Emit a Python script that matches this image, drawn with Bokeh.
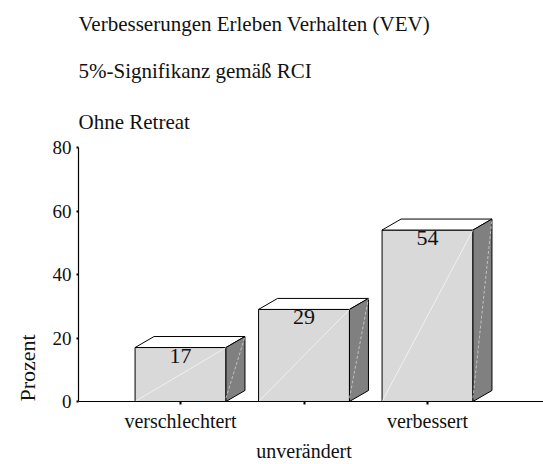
import math
from bokeh.plotting import figure
from bokeh.models import FixedTicker, LinearAxis, Title, Range1d, ColumnDataSource
from bokeh.core.properties import value
from bokeh.embed import file_html
from bokeh.resources import INLINE

# ---- data ----
title_lines = ["Verbesserungen Erleben Verhalten (VEV)",
               "5%-Signifikanz gemäß RCI",
               "Ohne Retreat"]
categories = ["verschlechtert", "unverändert", "verbessert"]
values = [17, 29, 54]
y_ticks = [0, 20, 40, 60, 80]
y_label = "Prozent"

# ---- layout constants ----
FONT = "Liberation Serif"
LEFT, TOP = 78, 147
FRAME_W, FRAME_H = 465, 254
px_per_x = 123.5
x_start = 0.174
x_end = x_start + FRAME_W / px_per_x
y_end = y_ticks[-1]
px_per_y = FRAME_H / y_end

xs = list(range(1, len(categories) + 1))
half = 0.368            # half bar width (data units)
dx = 19 / px_per_x      # 3D depth, x
dy = 11 / px_per_y      # 3D depth, y

p = figure(frame_width=FRAME_W, frame_height=FRAME_H, output_backend="svg",
           toolbar_location=None,
           x_range=Range1d(x_start, x_end), y_range=Range1d(0, y_end),
           min_border_left=LEFT, min_border_top=TOP, min_border_bottom=0,
           min_border_right=0)
p.outline_line_color = None
p.xgrid.visible = False
p.ygrid.visible = False
p.background_fill_color = "white"
p.border_fill_color = "white"

# ---- bars (3D look) ----
front = ColumnDataSource(dict(left=[x - half for x in xs], right=[x + half for x in xs],
                              top=values, bottom=[0] * len(xs)))
p.quad(left="left", right="right", top="top", bottom="bottom", source=front,
       fill_color="#d9d9d9", line_color="black", line_width=1)

top_xs = [[x - half, x - half + dx, x + half + dx, x + half] for x in xs]
top_ys = [[v, v + dy, v + dy, v] for v in values]
p.patches(top_xs, top_ys, fill_color="white", line_color="black", line_width=1)

side_xs = [[x + half, x + half + dx, x + half + dx, x + half] for x in xs]
side_ys = [[0, dy, v + dy, v] for v in values]
p.patches(side_xs, side_ys, fill_color="#808080", line_color="black", line_width=1)

# faint diagonals
p.segment(x0=[x - half for x in xs], y0=[0] * len(xs), x1=[x + half for x in xs], y1=values,
          line_color="white", line_alpha=0.6, line_width=1)
p.segment(x0=[x + half for x in xs], y0=[dy * 0.3] * len(xs), x1=[x + half + dx for x in xs],
          y1=[v + dy for v in values], line_color="#dddddd", line_alpha=0.7, line_width=1,
          line_dash="3 2")

# value labels
p.text(x=xs, y=values, text=[str(v) for v in values], text_align="center",
       text_baseline="top", y_offset=1, text_font=value(FONT), text_font_size="22px",
       text_color="#111111")

# ---- axes ----
p.yaxis.ticker = FixedTicker(ticks=y_ticks)
p.yaxis.major_label_text_font = FONT
p.yaxis.major_label_text_font_size = "19px"
p.yaxis.major_label_text_color = "#111111"
p.yaxis.major_tick_in = 0
p.yaxis.major_tick_out = 2
p.yaxis.major_tick_line_width = 2
p.yaxis.minor_tick_line_color = None
p.yaxis.major_label_standoff = 5
p.yaxis.axis_line_width = 1.2

upper = {x: (c if i != 1 else "") for i, (x, c) in enumerate(zip(xs, categories))}
lower = {xs[1]: categories[1]}

p.xaxis.ticker = FixedTicker(ticks=xs)
p.xaxis.major_label_overrides = upper
p.xaxis.major_label_text_font = FONT
p.xaxis.major_label_text_font_size = "20px"
p.xaxis.major_label_text_color = "#111111"
p.xaxis.major_tick_in = 0
p.xaxis.major_tick_out = 3
p.xaxis.major_tick_line_width = 2
p.xaxis.minor_tick_line_color = None
p.xaxis.major_label_standoff = 5
p.xaxis.axis_line_width = 1.2

ax2 = LinearAxis(ticker=FixedTicker(ticks=[xs[1]]), major_label_overrides=lower,
                 axis_line_color=None, major_tick_line_color=None,
                 major_tick_in=0, major_tick_out=0,
                 minor_tick_line_color=None, minor_tick_in=0, minor_tick_out=0,
                 major_label_standoff=5,
                 major_label_text_font=FONT, major_label_text_font_size="20px",
                 major_label_text_color="#111111")
p.add_layout(ax2, "below")

# ---- titles (added from the plot outward) ----
standoffs = [28, 22, 19]
for t, s in zip(reversed(title_lines), standoffs):
    p.add_layout(Title(text=t, align="left", text_font=FONT, text_font_size="21px",
                       text_font_style="normal", text_color="#111111", standoff=s),
                 "above")

# ---- y label ----
p.add_layout(Title(text=y_label, align="left", text_font=FONT, text_font_size="22px",
                   text_font_style="normal", text_color="#111111", standoff=20),
             "left")

open("out.html", "w").write(file_html(p, INLINE))
